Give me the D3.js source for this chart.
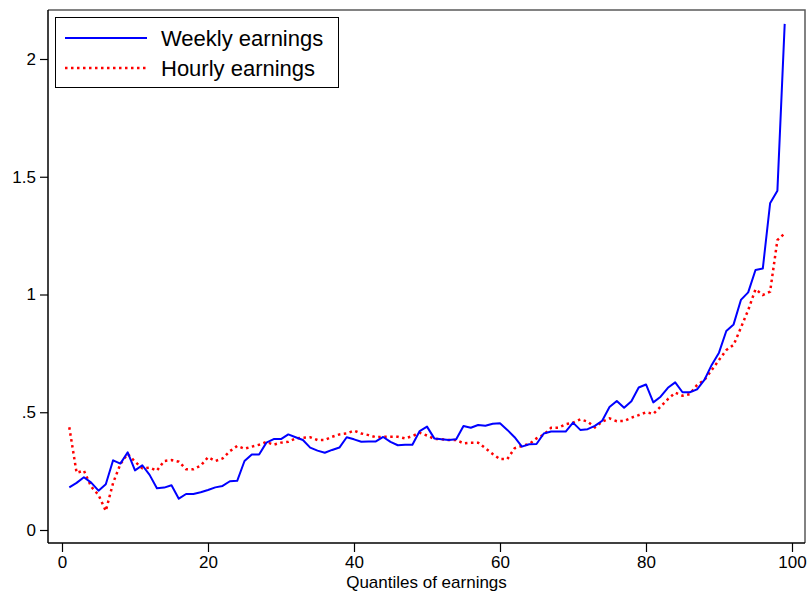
<!DOCTYPE html>
<html>
<head>
<meta charset="utf-8">
<script src="https://cdn.jsdelivr.net/npm/d3@7"></script>
<style>
  html, body { margin: 0; padding: 0; background: #fff; }
  svg { display: block; font-family: Arial, "Liberation Sans", sans-serif; }
</style>
</head>
<body>
<svg id="chart" width="809" height="596"></svg>
<script>
// Quantile index 1..99
const quantiles = d3.range(1, 100);

// Weekly earnings by quantile
const weekly = [
  0.181, 0.200, 0.224, 0.201, 0.167, 0.194, 0.296, 0.282, 0.330, 0.253,
  0.275, 0.234, 0.177, 0.180, 0.190, 0.133, 0.153, 0.153, 0.160, 0.170,
  0.181, 0.187, 0.207, 0.209, 0.293, 0.321, 0.321, 0.371, 0.386, 0.386,
  0.406, 0.394, 0.382, 0.350, 0.337, 0.328, 0.340, 0.350, 0.394, 0.385,
  0.375, 0.376, 0.376, 0.395, 0.374, 0.360, 0.362, 0.362, 0.420, 0.439,
  0.389, 0.385, 0.382, 0.385, 0.442, 0.434, 0.446, 0.443, 0.451, 0.453,
  0.425, 0.394, 0.354, 0.364, 0.365, 0.410, 0.418, 0.418, 0.418, 0.456,
  0.425, 0.428, 0.442, 0.464, 0.522, 0.548, 0.519, 0.547, 0.605, 0.618,
  0.542, 0.566, 0.604, 0.627, 0.585, 0.585, 0.597, 0.637, 0.701, 0.753,
  0.845, 0.873, 0.977, 1.009, 1.104, 1.110, 1.387, 1.441, 2.149
];

// Hourly earnings by quantile
const hourly = [
  0.436, 0.243, 0.252, 0.184, 0.149, 0.081, 0.200, 0.280, 0.323, 0.290,
  0.262, 0.265, 0.252, 0.293, 0.297, 0.290, 0.258, 0.258, 0.273, 0.309,
  0.293, 0.304, 0.335, 0.357, 0.345, 0.354, 0.362, 0.374, 0.362, 0.371,
  0.375, 0.389, 0.392, 0.394, 0.382, 0.382, 0.396, 0.406, 0.410, 0.422,
  0.410, 0.403, 0.394, 0.396, 0.396, 0.396, 0.389, 0.399, 0.413, 0.401,
  0.387, 0.385, 0.382, 0.382, 0.368, 0.371, 0.371, 0.347, 0.323, 0.301,
  0.301, 0.347, 0.357, 0.365, 0.389, 0.405, 0.434, 0.434, 0.449, 0.456,
  0.470, 0.460, 0.436, 0.460, 0.474, 0.462, 0.463, 0.477, 0.488, 0.500,
  0.493, 0.524, 0.556, 0.583, 0.570, 0.577, 0.616, 0.637, 0.679, 0.722,
  0.764, 0.786, 0.859, 0.934, 1.022, 0.998, 1.012, 1.231, 1.260
];

const xTicks = [0, 20, 40, 60, 80, 100];
const yTicks = [0, 0.5, 1, 1.5, 2];
const yTickLabels = ["0", ".5", "1", "1.5", "2"];
const seriesNames = ["Weekly earnings", "Hourly earnings"];

const svg = d3.select("#chart");

// Plot frame
const frame = { left: 48, right: 805, top: 10, bottom: 543 };

const x = d3.scaleLinear().domain([0, 100]).range([62, 792]);
const y = d3.scaleLinear().domain([0, 2]).range([530, 59]);

// Top and right border of the plot region
svg.append("path")
  .attr("d", `M${frame.left},${frame.top}H${frame.right}V${frame.bottom}`)
  .attr("fill", "none")
  .attr("stroke", "#5a5a5a")
  .attr("stroke-width", 1.5);

// Y axis
const yAxis = d3.axisLeft(y)
  .tickValues(yTicks)
  .tickFormat((d, i) => yTickLabels[i])
  .tickSize(8)
  .tickPadding(4)
  .tickSizeOuter(0);

const gy = svg.append("g")
  .attr("transform", `translate(${frame.left},0)`)
  .call(yAxis);
gy.select(".domain").remove();
gy.append("line")
  .attr("x1", 0).attr("x2", 0)
  .attr("y1", frame.top).attr("y2", frame.bottom)
  .attr("stroke", "#000").attr("stroke-width", 1.5);
gy.selectAll(".tick line").attr("stroke", "#000").attr("stroke-width", 1.2);
gy.selectAll(".tick text")
  .attr("font-size", 17)
  .attr("fill", "#000")
  .attr("font-family", "Arial, 'Liberation Sans', sans-serif");

// X axis
const xAxis = d3.axisBottom(x)
  .tickValues(xTicks)
  .tickFormat(d3.format("d"))
  .tickSize(9)
  .tickPadding(4)
  .tickSizeOuter(0);

const gx = svg.append("g")
  .attr("transform", `translate(0,${frame.bottom})`)
  .call(xAxis);
gx.select(".domain").remove();
gx.append("line")
  .attr("x1", frame.left).attr("x2", frame.right)
  .attr("y1", 0).attr("y2", 0)
  .attr("stroke", "#000").attr("stroke-width", 1.5);
gx.selectAll(".tick line").attr("stroke", "#000").attr("stroke-width", 1.2);
gx.selectAll(".tick text")
  .attr("font-size", 17)
  .attr("fill", "#000")
  .attr("font-family", "Arial, 'Liberation Sans', sans-serif");

// X axis title
svg.append("text")
  .attr("x", (frame.left + frame.right) / 2)
  .attr("y", 588)
  .attr("text-anchor", "middle")
  .attr("font-size", 17)
  .attr("fill", "#000")
  .text("Quantiles of earnings");

// Series lines
const line = d3.line()
  .x((d, i) => x(quantiles[i]))
  .y(d => y(d));

svg.append("path")
  .datum(hourly)
  .attr("d", line)
  .attr("fill", "none")
  .attr("stroke", "#ff0000")
  .attr("stroke-width", 2.5)
  .attr("stroke-dasharray", "2.5,3.5");

svg.append("path")
  .datum(weekly)
  .attr("d", line)
  .attr("fill", "none")
  .attr("stroke", "#0000ff")
  .attr("stroke-width", 2)
  .attr("stroke-linejoin", "round");

// Legend
const legend = svg.append("g");
legend.append("rect")
  .attr("x", 55.5).attr("y", 17.5)
  .attr("width", 283).attr("height", 70)
  .attr("fill", "#fff")
  .attr("stroke", "#000")
  .attr("stroke-width", 1);

const legendStyles = [
  { color: "#0000ff", width: 2, dash: null, y: 38 },
  { color: "#ff0000", width: 2.5, dash: "2.5,3.5", y: 68 }
];

seriesNames.forEach((name, i) => {
  const s = legendStyles[i];
  legend.append("line")
    .attr("x1", 65).attr("x2", 147)
    .attr("y1", s.y).attr("y2", s.y)
    .attr("stroke", s.color)
    .attr("stroke-width", s.width)
    .attr("stroke-dasharray", s.dash);
  legend.append("text")
    .attr("x", 161)
    .attr("y", s.y + 8)
    .attr("font-size", 22)
    .attr("fill", "#000")
    .text(name);
});
</script>
</body>
</html>
